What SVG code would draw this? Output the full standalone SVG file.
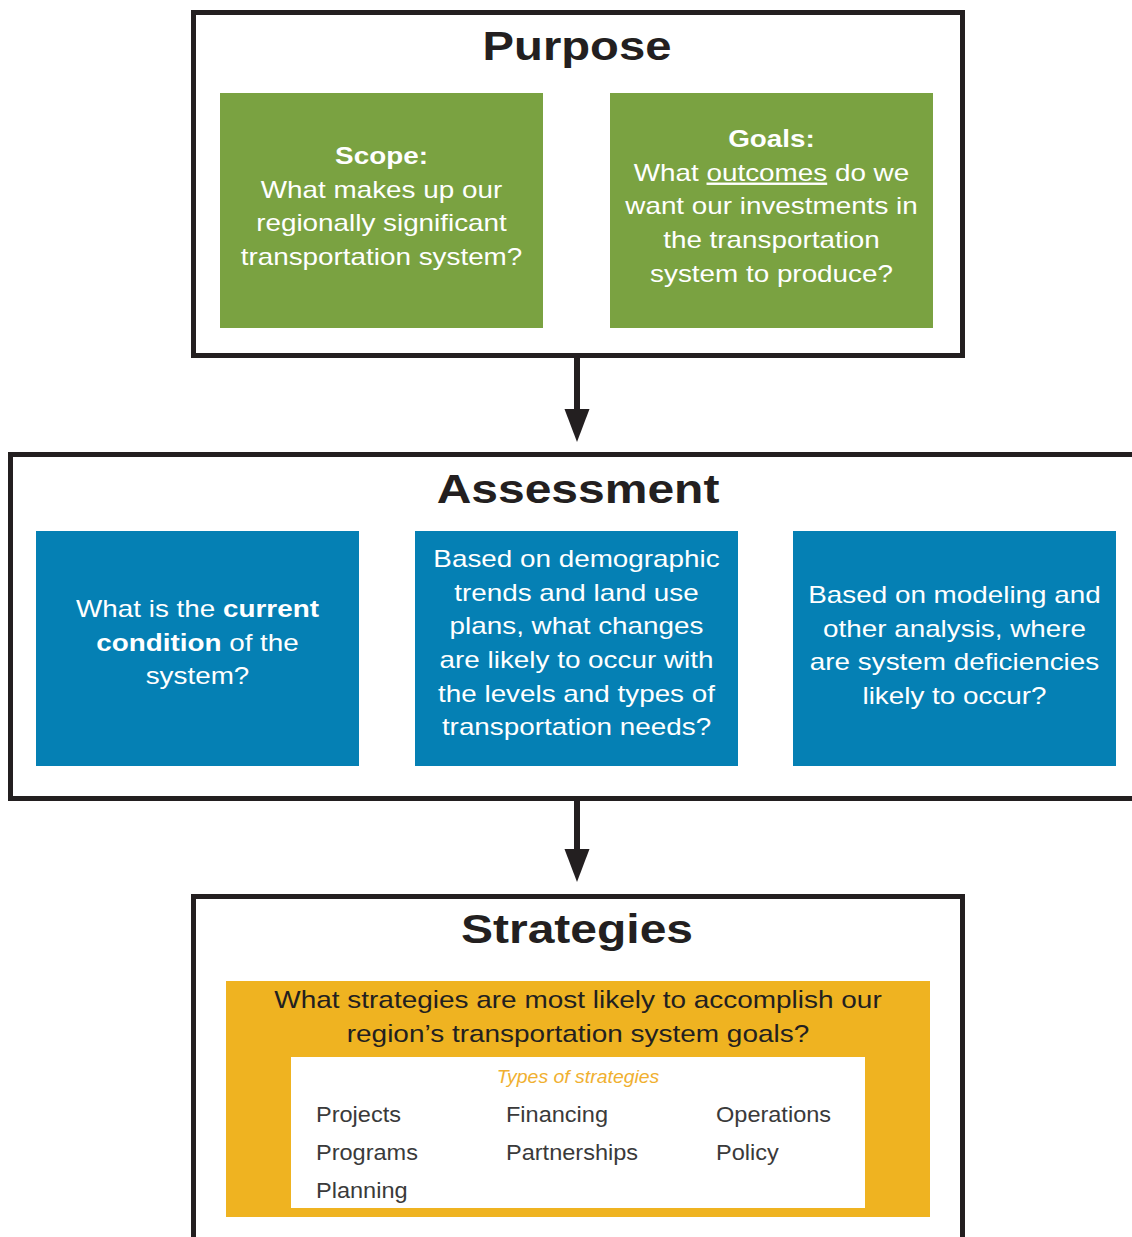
<svg xmlns="http://www.w3.org/2000/svg" width="1132" height="1237" viewBox="0 0 1132 1237">
  <style>
    .frame { fill: #ffffff; stroke: #231f20; stroke-width: 5; }
    .title { font-family: "Liberation Sans", Arial, sans-serif; font-weight: bold; font-size: 40px; fill: #231f20; text-anchor: middle; }
    .body { font-family: "Liberation Sans", Arial, sans-serif; font-size: 24px; text-anchor: middle; }
    .w { fill: #ffffff; }
    .k { fill: #231f20; }
    .b { font-weight: bold; }
    .green { fill: #7aa241; }
    .blue { fill: #0580b4; }
    .orange { fill: #efb321; }
    .item { font-family: "Liberation Sans", Arial, sans-serif; font-size: 22px; fill: #3a3a3a; }
    .types { font-family: "Liberation Sans", Arial, sans-serif; font-size: 18px; font-style: italic; fill: #f0b030; text-anchor: middle; }
    .conn { stroke: #231f20; stroke-width: 6; fill: none; }
    .head { fill: #231f20; }
  </style>

  <g id="purpose">
    <rect class="frame" x="193.5" y="12.5" width="769" height="343"/>
    <text class="title" transform="translate(577,60) scale(1.18,1)">Purpose</text>
  </g>
  <g id="scope">
    <rect class="green" x="220" y="93" width="323" height="235"/>
    <text class="body w" transform="translate(381.5,164) scale(1.16,1)"><tspan x="0" class="b">Scope:</tspan><tspan x="0" dy="33.7">What makes up our</tspan><tspan x="0" dy="33.7">regionally significant</tspan><tspan x="0" dy="33.7">transportation system?</tspan></text>
  </g>
  <g id="goals">
    <rect class="green" x="610" y="93" width="323" height="235"/>
    <text class="body w" transform="translate(771.5,147) scale(1.16,1)"><tspan x="0" class="b">Goals:</tspan><tspan x="0" dy="33.7">What <tspan text-decoration="underline">outcomes</tspan> do we</tspan><tspan x="0" dy="33.7">want our investments in</tspan><tspan x="0" dy="33.7">the transportation</tspan><tspan x="0" dy="33.7">system to produce?</tspan></text>
  </g>

  <g id="assessment">
    <rect class="frame" x="10.5" y="454.5" width="1130" height="344"/>
    <text class="title" transform="translate(578,503) scale(1.2,1)">Assessment</text>
  </g>
  <g id="current-condition">
    <rect class="blue" x="36" y="531" width="323" height="235"/>
    <text class="body w" transform="translate(197.5,617) scale(1.16,1)"><tspan x="0">What is the <tspan class="b">current</tspan></tspan><tspan x="0" dy="33.7"><tspan class="b">condition</tspan> of the</tspan><tspan x="0" dy="33.7">system?</tspan></text>
  </g>
  <g id="demographic-trends">
    <rect class="blue" x="415" y="531" width="323" height="235"/>
    <text class="body w" transform="translate(576.5,567) scale(1.16,1)"><tspan x="0">Based on demographic</tspan><tspan x="0" dy="33.7">trends and land use</tspan><tspan x="0" dy="33.7">plans, what changes</tspan><tspan x="0" dy="33.7">are likely to occur with</tspan><tspan x="0" dy="33.7">the levels and types of</tspan><tspan x="0" dy="33.7">transportation needs?</tspan></text>
  </g>
  <g id="deficiencies">
    <rect class="blue" x="793" y="531" width="323" height="235"/>
    <text class="body w" transform="translate(954.5,603) scale(1.16,1)"><tspan x="0">Based on modeling and</tspan><tspan x="0" dy="33.7">other analysis, where</tspan><tspan x="0" dy="33.7">are system deficiencies</tspan><tspan x="0" dy="33.7">likely to occur?</tspan></text>
  </g>

  <g id="strategies">
    <rect class="frame" x="193.5" y="896.5" width="769" height="400"/>
    <text class="title" transform="translate(577,943) scale(1.2,1)">Strategies</text>
  </g>
  <g id="strategies-question">
    <rect class="orange" x="226" y="981" width="704" height="236"/>
    <text class="body k" transform="translate(578,1008) scale(1.165,1)"><tspan x="0">What strategies are most likely to accomplish our</tspan><tspan x="0" dy="33.7">region’s transportation system goals?</tspan></text>
  </g>
  <g id="strategy-types">
    <rect x="291" y="1057" width="574" height="151" fill="#ffffff"/>
    <text class="types" transform="translate(578,1083) scale(1.08,1)">Types of strategies</text>
    <text class="item" transform="translate(316,1122) scale(1.07,1)">Projects</text>
    <text class="item" transform="translate(316,1160) scale(1.07,1)">Programs</text>
    <text class="item" transform="translate(316,1198) scale(1.07,1)">Planning</text>
    <text class="item" transform="translate(506,1122) scale(1.07,1)">Financing</text>
    <text class="item" transform="translate(506,1160) scale(1.07,1)">Partnerships</text>
    <text class="item" transform="translate(716,1122) scale(1.07,1)">Operations</text>
    <text class="item" transform="translate(716,1160) scale(1.07,1)">Policy</text>
  </g>

  <g id="connectors">
    <line class="conn" x1="577" y1="358" x2="577" y2="412"/>
    <polygon class="head" points="564.5,409 589.5,409 577,442"/>
    <line class="conn" x1="577" y1="800" x2="577" y2="852"/>
    <polygon class="head" points="564.5,849 589.5,849 577,882"/>
  </g>
</svg>
